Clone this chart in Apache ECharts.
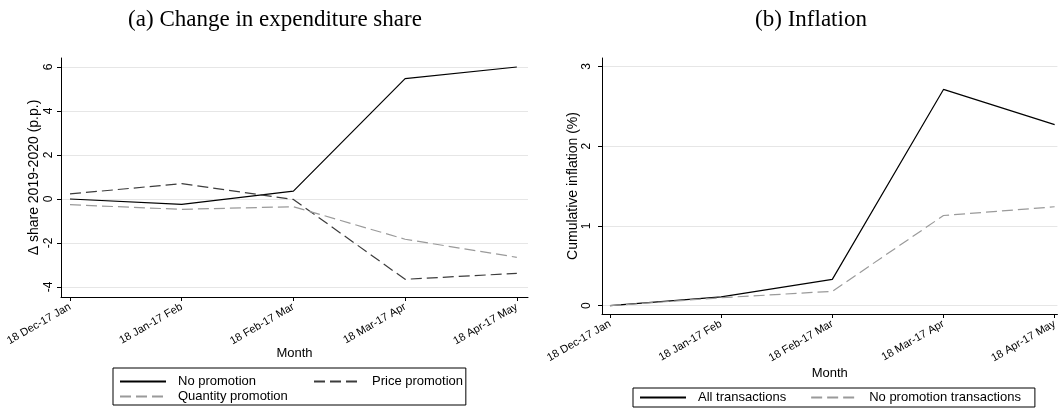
<!DOCTYPE html>
<html>
<head>
<meta charset="utf-8">
<script src="https://cdn.jsdelivr.net/npm/echarts@6/dist/echarts.min.js"></script>
<style>
    html, body { margin: 0; padding: 0; background: #fff; }
    #chart { width: 1060px; height: 412px; }
</style>
</head>
<body>
<div id="chart"></div>
<script>
// months on the x axis (both panels)
var months = ['18 Dec-17 Jan', '18 Jan-17 Feb', '18 Feb-17 Mar', '18 Mar-17 Apr', '18 Apr-17 May'];

// (a) change in expenditure share, p.p.
var noPromo = [0.0, -0.24, 0.36, 5.47, 6.0];
var pricePromo = [0.23, 0.70, -0.02, -3.65, -3.38];
var qtyPromo = [-0.26, -0.47, -0.35, -1.83, -2.65];
var shareTicks = [-4, -2, 0, 2, 4, 6];

// (b) cumulative inflation, %
var allTx = [0.0, 0.11, 0.33, 2.71, 2.27];
var noPromoTx = [0.0, 0.10, 0.18, 1.13, 1.24];
var inflTicks = [0, 1, 2, 3];

var monthIdx = months.map(function (m, i) { return i; });
function pairs(arr) {
    return arr.map(function (v, i) { return [i, v]; });
}

var sans = 'Liberation Sans';
var serif = 'Liberation Serif';
var grey = '#e6e6e6';

function xAxisCfg(gridIndex, min, max, nameGap) {
    return {
        type: 'value',
        gridIndex: gridIndex,
        min: min,
        max: max,
        name: 'Month',
        nameLocation: 'middle',
        nameGap: nameGap,
        nameMoveOverlap: false,
        nameTextStyle: { fontFamily: sans, fontSize: 13, color: '#000' },
        axisLine: { show: true, onZero: false, lineStyle: { color: '#000', width: 1 } },
        axisTick: { show: true, length: 4, customValues: monthIdx, lineStyle: { color: '#000' } },
        axisLabel: {
            customValues: monthIdx,
            rotate: 30,
            margin: 9,
            fontFamily: sans,
            fontSize: 11,
            color: '#000',
            formatter: function (v) { return months[Math.round(v)]; }
        },
        splitLine: { show: false }
    };
}

function yAxisCfg(gridIndex, min, max, ticks, name, nameGap, margin) {
    return {
        type: 'value',
        gridIndex: gridIndex,
        min: min,
        max: max,
        name: name,
        nameLocation: 'middle',
        nameRotate: 90,
        nameGap: nameGap,
        nameTextStyle: { fontFamily: sans, fontSize: 14, color: '#000' },
        axisLine: { show: true, onZero: false, lineStyle: { color: '#000', width: 1 } },
        axisTick: { show: true, length: 4, customValues: ticks, lineStyle: { color: '#000' } },
        axisLabel: {
            customValues: ticks,
            rotate: 90,
            margin: margin,
            fontFamily: sans,
            fontSize: 12,
            color: '#000'
        },
        splitLine: { show: true, lineStyle: { color: grey, width: 1 } }
    };
}

function lineSeries(name, data, xi, color, dash) {
    return {
        name: name,
        type: 'line',
        xAxisIndex: xi,
        yAxisIndex: xi,
        data: pairs(data),
        symbol: 'none',
        silent: true,
        lineStyle: { color: color, width: 1.2, type: dash ? [11, 5] : 'solid' },
        itemStyle: { color: color }
    };
}

// legend keys are lines only, no marker
var noMarker = { color: 'rgba(0,0,0,0)', borderColor: 'rgba(0,0,0,0)', borderWidth: 0 };
var legendText = { fontFamily: sans, fontSize: 13, color: '#000', padding: [0, 0, 0, 7] };

var chart = echarts.init(document.getElementById('chart'), null, { renderer: 'canvas' });

var option = {
    backgroundColor: '#fff',
    animation: false,
    title: [
        {
            text: '(a) Change in expenditure share',
            left: 275, top: 8, padding: 0, textAlign: 'center',
            textStyle: { fontFamily: serif, fontSize: 23, fontWeight: 'normal', color: '#000' }
        },
        {
            text: '(b) Inflation',
            left: 811, top: 8, padding: 0, textAlign: 'center',
            textStyle: { fontFamily: serif, fontSize: 23, fontWeight: 'normal', color: '#000' }
        }
    ],
    grid: [
        { left: 61, top: 58, width: 467, height: 239, containLabel: false },
        { left: 602, top: 58, width: 458, height: 256, containLabel: false }
    ],
    xAxis: [
        xAxisCfg(0, -0.0806, 4.1, 50),
        xAxisCfg(1, -0.0716, 4.025, 53)
    ],
    yAxis: [
        yAxisCfg(0, -4.4545, 6.409, shareTicks, '\u0394 share 2019-2020 (p.p.)', 20, 6),
        yAxisCfg(1, -0.104, 3.104, inflTicks, 'Cumulative inflation (%)', 22, 9)
    ],
    legend: [
        {
            // first column of panel (a) legend, its box frames the whole legend
            data: ['No promotion', 'Quantity promotion'],
            left: 113, top: 368,
            orient: 'vertical',
            itemWidth: 46, itemHeight: 16, itemGap: 2,
            padding: [7, 178, 2, 6],
            borderColor: '#000', borderWidth: 1,
            selectedMode: false,
            itemStyle: noMarker,
            textStyle: legendText
        },
        {
            data: ['Price promotion'],
            left: 313, top: 368,
            orient: 'vertical',
            itemWidth: 46, itemHeight: 16, itemGap: 2,
            padding: [7, 0, 0, 0],
            selectedMode: false,
            itemStyle: noMarker,
            textStyle: legendText
        },
        {
            data: ['All transactions', 'No promotion transactions'],
            left: 633, top: 388,
            orient: 'horizontal',
            itemWidth: 46, itemHeight: 16, itemGap: 24,
            padding: [3, 14, 3, 6],
            borderColor: '#000', borderWidth: 1,
            selectedMode: false,
            itemStyle: noMarker,
            textStyle: legendText
        }
    ],
    series: [
        lineSeries('No promotion', noPromo, 0, '#000', false),
        lineSeries('Price promotion', pricePromo, 0, '#3c3c3c', true),
        lineSeries('Quantity promotion', qtyPromo, 0, '#9a9a9a', true),
        lineSeries('All transactions', allTx, 1, '#000', false),
        lineSeries('No promotion transactions', noPromoTx, 1, '#9a9a9a', true)
    ]
};

chart.setOption(option);
</script>
</body>
</html>
